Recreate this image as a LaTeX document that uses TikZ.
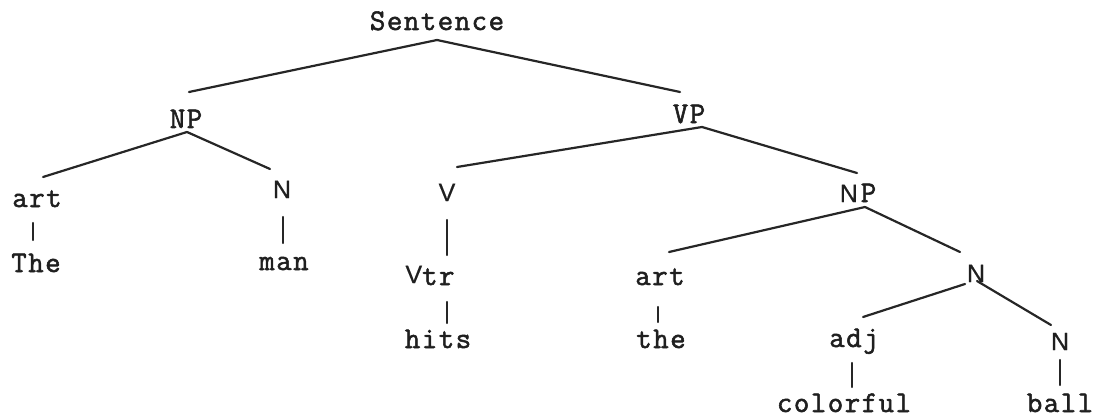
\documentclass[tikz,border=0pt]{standalone}
\usepackage{fontspec}
\setmainfont{Latin Modern Mono}[FakeBold=1.8,LetterSpace=5]
\newfontfamily\typesans{Liberation Sans}[FakeBold=0.4]
\begin{document}
\begin{tikzpicture}[x=1pt,y=-1pt,
  lbl/.style={inner sep=0pt,outer sep=0pt,anchor=base,text=black!88,
    font=\fontsize{30}{30}\selectfont},
  slbl/.style={lbl,font=\fontsize{25}{25}\selectfont\typesans},
  edge/.style={line width=2.2pt,black!85,line cap=round}]
\useasboundingbox (0,0) rectangle (1107,417);
% nodes
\node[lbl]  (s)    at (437,30)  {Sentence};
\node[lbl]  (np1)  at (186,128) {NP};
\node[lbl]  (vp)   at (689,123) {VP};
\node[lbl]  (art1) at (37,207)  {art};
\node[slbl] (n1)   at (282,198) {N};
\node[slbl] (v)    at (447,201) {V};
\node[lbl]  (np2)  at (858,202) {{\typesans\fontsize{25}{25}\selectfont N}\kern3pt P};
\node[lbl]  (the1) at (36,272)  {The};
\node[lbl]  (man)  at (284,270) {man};
\node[lbl]  (vtr)  at (430,283) {{\typesans\fontsize{25}{25}\selectfont V}\raisebox{-2pt}{tr}};
\node[lbl]  (hits) at (438,348) {hits};
\node[lbl]  (art2) at (660,285) {art};
\node[lbl]  (the2) at (661,348) {the};
\node[slbl] (n2)   at (976,282) {N};
\node[lbl]  (adj)  at (854,347) {adj};
\node[slbl] (n3)   at (1060,350) {N};
\node[lbl]  (col)  at (844,412) {colorful};
\node[lbl]  (ball) at (1060,412) {ball};
% connectors
\draw[edge] ([shift={(0,10)}]s.base)     -- ([shift={(3,-36)}]np1.base);
\draw[edge] ([shift={(0,10)}]s.base)     -- ([shift={(-9,-31)}]vp.base);
\draw[edge] ([shift={(1,4)}]np1.base)    -- ([shift={(6,-30)}]art1.base);
\draw[edge] ([shift={(1,4)}]np1.base)    -- ([shift={(-12,-29)}]n1.base);
\draw[edge] ([shift={(13,4)}]vp.base)    -- ([shift={(10,-34)}]v.base);
\draw[edge] ([shift={(13,4)}]vp.base)    -- ([shift={(-1,-29)}]np2.base);
\draw[edge] ([shift={(-4,16)}]art1.base) -- ([shift={(-3,-32)}]the1.base);
\draw[edge] ([shift={(1,19)}]n1.base)    -- ([shift={(-1,-27)}]man.base);
\draw[edge] ([shift={(0,19)}]v.base)     -- ([shift={(17,-28)}]vtr.base);
\draw[edge] ([shift={(17,19)}]vtr.base)  -- ([shift={(9,-25)}]hits.base);
\draw[edge] ([shift={(7,5)}]np2.base)    -- ([shift={(9,-33)}]art2.base);
\draw[edge] ([shift={(7,5)}]np2.base)    -- ([shift={(-16,-30)}]n2.base);
\draw[edge] ([shift={(-2,22)}]art2.base) -- ([shift={(-3,-26)}]the2.base);
\draw[edge] ([shift={(-11,2)}]n2.base)   -- ([shift={(9,-30)}]adj.base);
\draw[edge] ([shift={(1,-1)}]n2.base)    -- ([shift={(-9,-25)}]n3.base);
\draw[edge] ([shift={(-2,16)}]adj.base)  -- ([shift={(8,-25)}]col.base);
\draw[edge] ([shift={(0,10)}]n3.base)    -- ([shift={(0,-27)}]ball.base);
\end{tikzpicture}
\end{document}
